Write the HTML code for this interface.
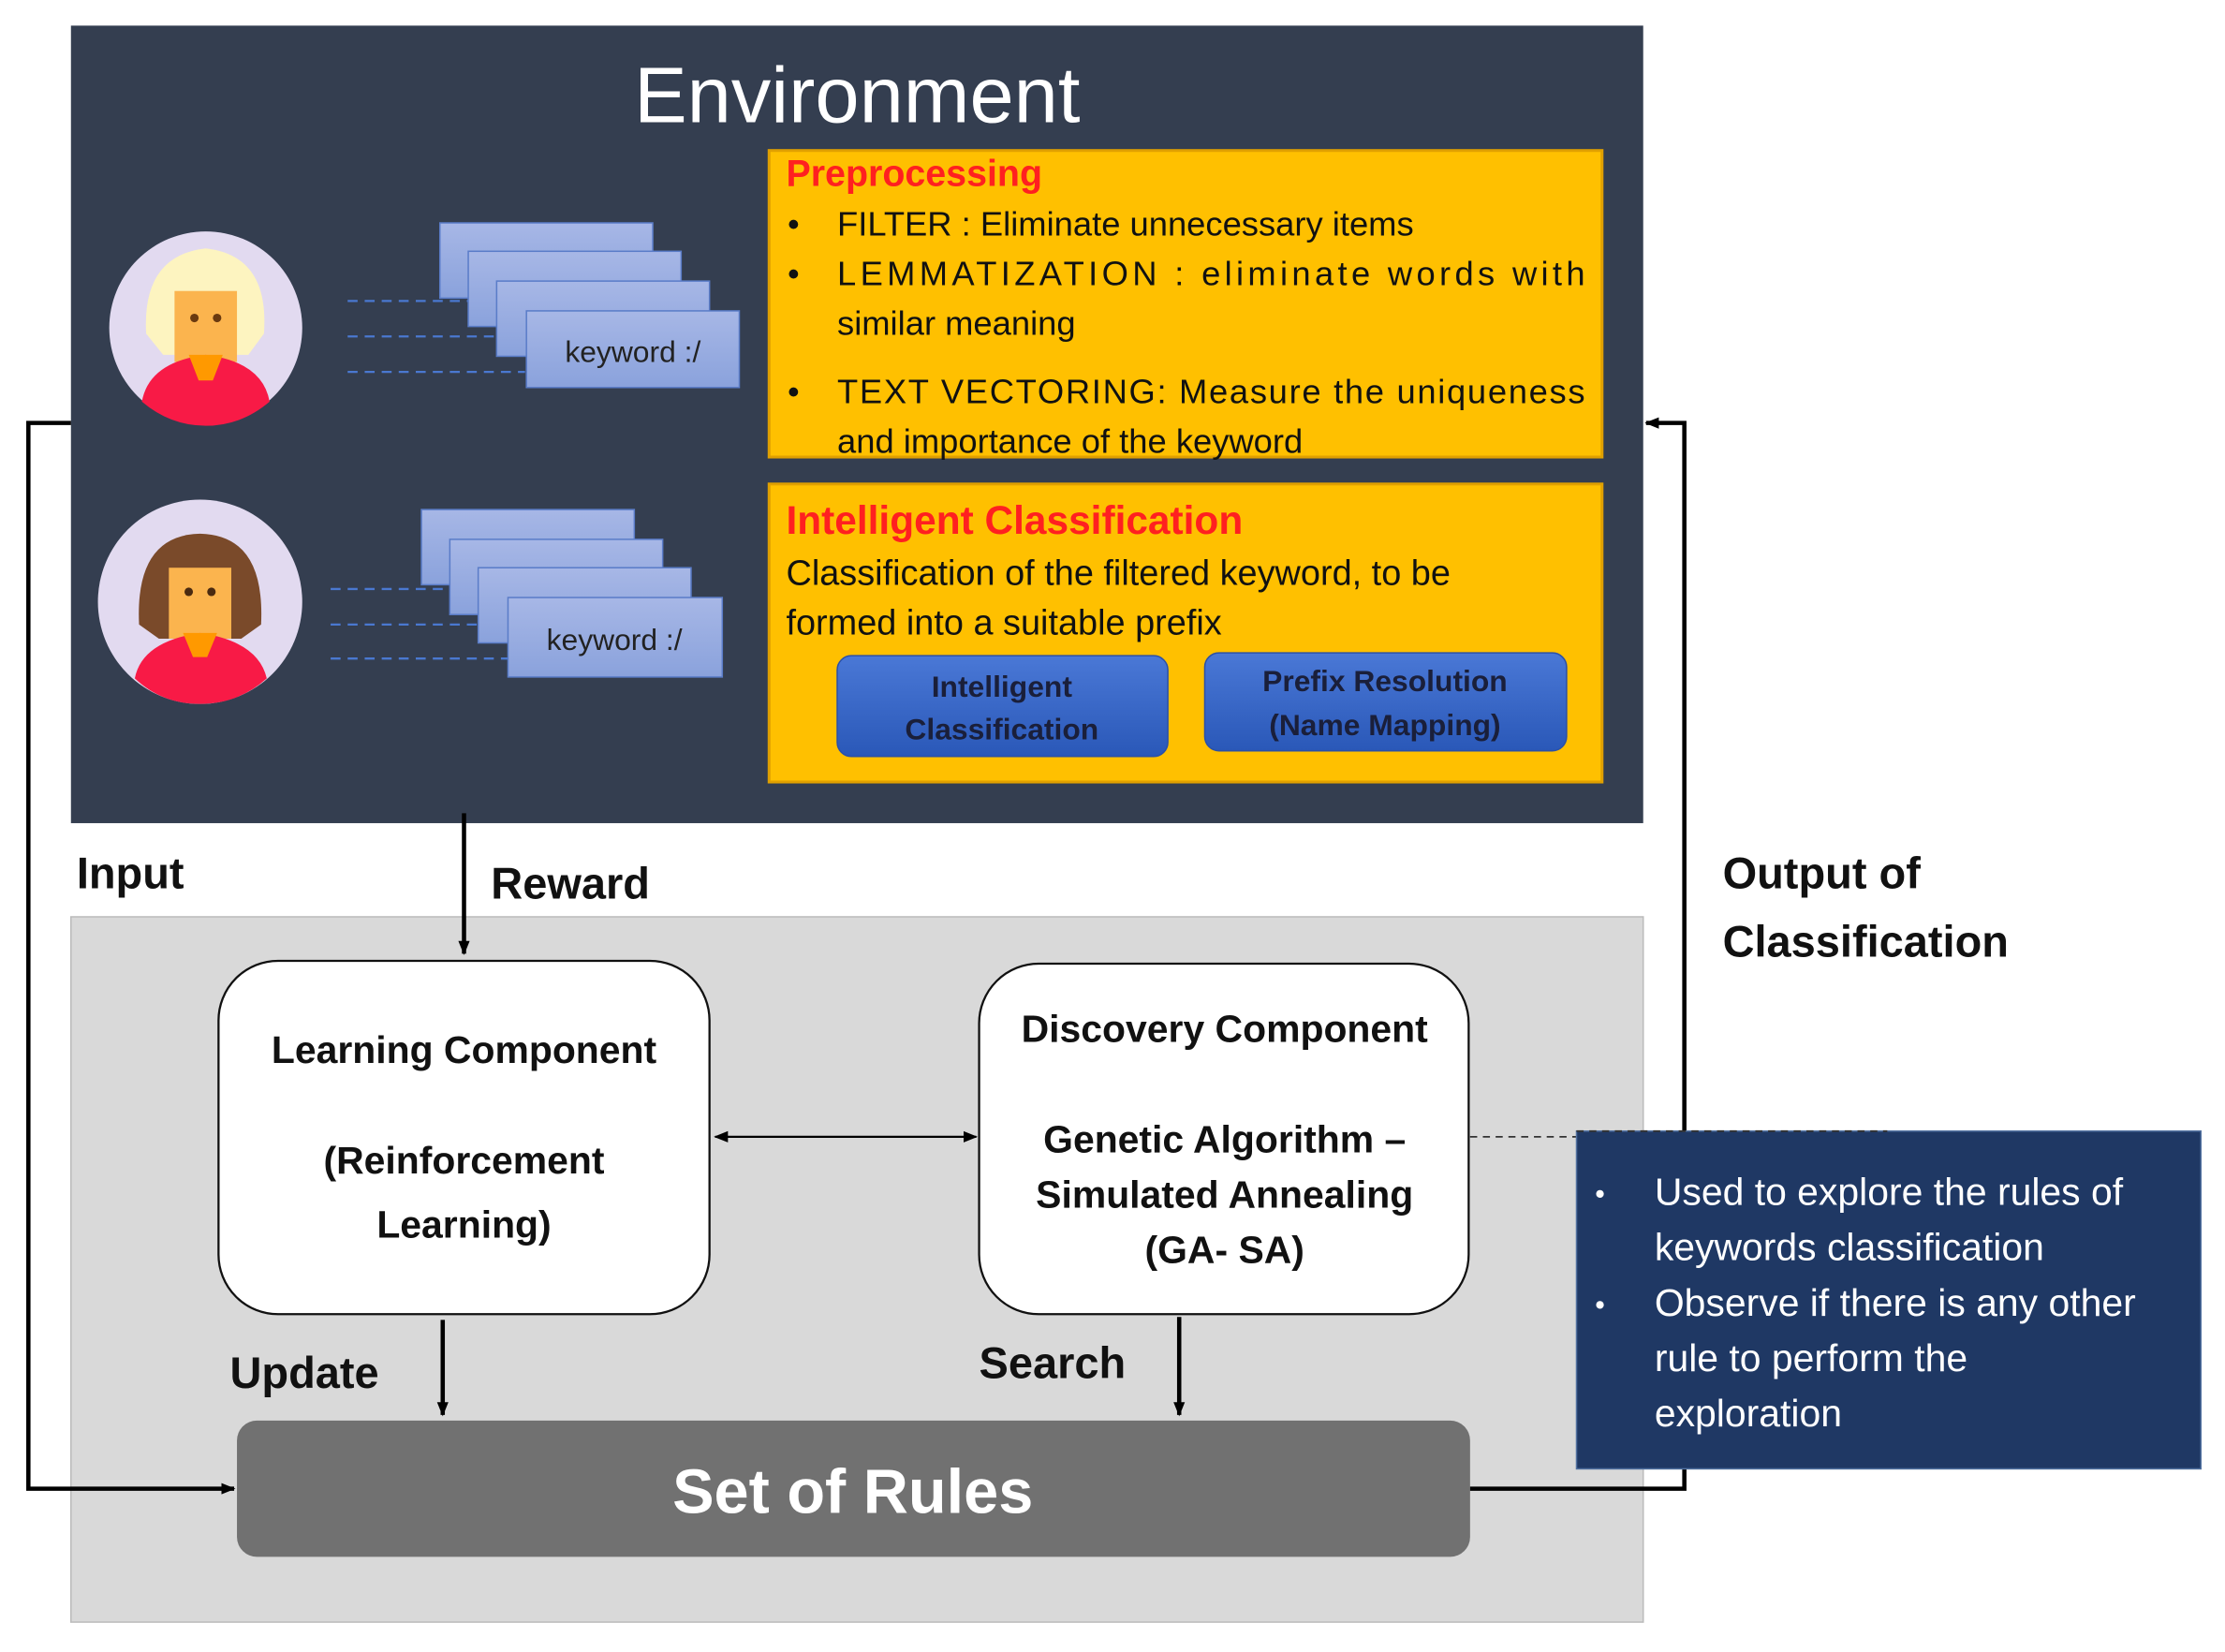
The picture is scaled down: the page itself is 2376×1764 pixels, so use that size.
<!DOCTYPE html>
<html><head><meta charset="utf-8"><style>
html,body{margin:0;padding:0;background:#fff}
svg{display:block}
text{font-family:"Liberation Sans","DejaVu Sans",sans-serif}
</style></head><body>
<svg width="2376" height="1764" viewBox="0 0 1568 1164" xmlns="http://www.w3.org/2000/svg">
<defs>
<linearGradient id="card" x1="0" y1="0" x2="0" y2="1"><stop offset="0" stop-color="#a7b7e6"/><stop offset="1" stop-color="#8aa2dc"/></linearGradient>
<linearGradient id="btn" x1="0" y1="0" x2="0" y2="1"><stop offset="0" stop-color="#4a78d6"/><stop offset="1" stop-color="#2a58b8"/></linearGradient>
<marker id="ah" markerWidth="10" markerHeight="10" refX="9" refY="5" orient="auto" markerUnits="userSpaceOnUse"><path d="M0,1 L10,5 L0,9 z" fill="#000"/></marker>
<marker id="ahs" markerWidth="10" markerHeight="10" refX="1" refY="5" orient="auto" markerUnits="userSpaceOnUse"><path d="M10,1 L0,5 L10,9 z" fill="#000"/></marker>
</defs>
<rect x="50" y="18" width="1108" height="562" fill="#343e50"/>
<text x="604" y="86" font-size="56" fill="#fff" text-anchor="middle">Environment</text>
<rect x="50" y="646" width="1108" height="497" fill="#d9d9d9" stroke="#bbb"/>

<g>
<circle cx="145" cy="231" r="68" fill="#e2daf0"/>
<path d="M103,235 Q100,180 145,175 Q190,180 186,235 L175,250 L115,250 Z" fill="#fdf4c0"/>
<rect x="123" y="205" width="44" height="50" fill="#fbb44e"/>
<path d="M100,283 Q105,255 145,250 Q185,255 190,283 Q170,300 145,300 Q120,300 100,283 Z" fill="#f81a46"/>
<path d="M133,250 L157,250 L150,268 L140,268 Z" fill="#ff9900"/>
<circle cx="137" cy="224" r="3" fill="#6a3a10"/><circle cx="153" cy="224" r="3" fill="#6a3a10"/>
</g>
<g>
<circle cx="141" cy="424" r="72" fill="#e2daf0"/>
<path d="M98,440 Q95,377 141,376 Q187,377 184,440 L170,450 L112,450 Z" fill="#7a4a2a"/>
<rect x="119" y="400" width="44" height="50" fill="#fbb44e"/>
<path d="M95,478 Q100,452 141,446 Q182,452 188,478 Q168,496 141,496 Q114,496 95,478 Z" fill="#f81a46"/>
<path d="M129,446 L153,446 L146,463 L136,463 Z" fill="#ff9900"/>
<circle cx="133" cy="417" r="3" fill="#4a2a10"/><circle cx="149" cy="417" r="3" fill="#4a2a10"/>
</g>
<g stroke="#4a78d0" stroke-width="1.5" stroke-dasharray="7,5">
<line x1="245" y1="212" x2="370" y2="212"/><line x1="245" y1="237" x2="370" y2="237"/><line x1="245" y1="262" x2="370" y2="262"/>
<line x1="233" y1="415" x2="358" y2="415"/><line x1="233" y1="440" x2="358" y2="440"/><line x1="233" y1="464" x2="358" y2="464"/>
</g>
<g stroke="#5a7cc8" stroke-width="1" fill="url(#card)">
<rect x="310" y="157" width="150" height="53"/><rect x="330" y="177" width="150" height="53"/><rect x="350" y="198" width="150" height="53"/><rect x="371" y="219" width="150" height="54"/>
<rect x="297" y="359" width="150" height="53"/><rect x="317" y="380" width="150" height="53"/><rect x="337" y="400" width="150" height="53"/><rect x="358" y="421" width="151" height="56"/>
</g>
<text x="446" y="255" font-size="21" fill="#222" text-anchor="middle">keyword :/</text>
<text x="433" y="458" font-size="21" fill="#222" text-anchor="middle">keyword :/</text>

<rect x="542" y="106" width="587" height="216" fill="#ffc000" stroke="#e0a000" stroke-width="2"/>
<text x="554" y="131" font-size="26" font-weight="bold" fill="#ff2020">Preprocessing</text>
<g font-size="24" fill="#111">
<text x="555" y="166">•</text><text x="590" y="166">FILTER : Eliminate unnecessary items</text>
<text x="555" y="201">•</text><text x="590" y="201" textLength="527" lengthAdjust="spacing">LEMMATIZATION  :  eliminate  words  with</text>
<text x="590" y="236">similar meaning</text>
<text x="555" y="284">•</text><text x="590" y="284" textLength="527" lengthAdjust="spacing">TEXT VECTORING: Measure the uniqueness</text>
<text x="590" y="319">and  importance of the keyword</text>
</g>
<rect x="542" y="341" width="587" height="210" fill="#ffc000" stroke="#e0a000" stroke-width="2"/>
<text x="554" y="376" font-size="28" font-weight="bold" fill="#ff2020">Intelligent Classification</text>
<text x="554" y="412" font-size="25" fill="#111">Classification of the filtered keyword, to be</text>
<text x="554" y="447" font-size="25" fill="#111">formed into a suitable prefix</text>
<rect x="590" y="462" width="233" height="71" rx="10" fill="url(#btn)" stroke="#2a50a8"/>
<text x="706" y="491" font-size="21" font-weight="bold" fill="#1a1f3a" text-anchor="middle">Intelligent</text>
<text x="706" y="521" font-size="21" font-weight="bold" fill="#1a1f3a" text-anchor="middle">Classification</text>
<rect x="849" y="460" width="255" height="69" rx="10" fill="url(#btn)" stroke="#2a50a8"/>
<text x="976" y="487" font-size="21" font-weight="bold" fill="#1a1f3a" text-anchor="middle">Prefix Resolution</text>
<text x="976" y="518" font-size="21" font-weight="bold" fill="#1a1f3a" text-anchor="middle">(Name Mapping)</text>

<text x="54" y="626" font-size="31" font-weight="bold" fill="#111">Input</text>
<text x="346" y="633" font-size="31" font-weight="bold" fill="#111">Reward</text>
<text x="1214" y="626" font-size="31" font-weight="bold" fill="#111">Output of</text>
<text x="1214" y="674" font-size="31" font-weight="bold" fill="#111">Classification</text>

<rect x="154" y="677" width="346" height="249" rx="42" fill="#fff" stroke="#111" stroke-width="1.5"/>
<g font-size="27" font-weight="bold" fill="#111" text-anchor="middle">
<text x="327" y="749">Learning Component</text>
<text x="327" y="827">(Reinforcement</text>
<text x="327" y="872">Learning)</text>
</g>
<rect x="690" y="679" width="345" height="247" rx="42" fill="#fff" stroke="#111" stroke-width="1.5"/>
<g font-size="27" font-weight="bold" fill="#111" text-anchor="middle">
<text x="863" y="734">Discovery Component</text>
<text x="863" y="812">Genetic Algorithm –</text>
<text x="863" y="851">Simulated Annealing</text>
<text x="863" y="890">(GA- SA)</text>
</g>
<text x="162" y="978" font-size="31" font-weight="bold" fill="#111">Update</text>
<text x="690" y="971" font-size="31" font-weight="bold" fill="#111">Search</text>

<rect x="167" y="1001" width="869" height="96" rx="14" fill="#717171"/>
<text x="601" y="1066" font-size="44" font-weight="bold" fill="#fff" text-anchor="middle">Set of Rules</text>

<g stroke="#000" stroke-width="3" fill="none">
<line x1="327" y1="573" x2="327" y2="672" marker-end="url(#ah)"/>
<line x1="312" y1="930" x2="312" y2="997" marker-end="url(#ah)"/>
<line x1="831" y1="928" x2="831" y2="997" marker-end="url(#ah)"/>
<polyline points="50,298 20,298 20,1049 165,1049" marker-end="url(#ah)"/>
<polyline points="1036,1049 1187,1049 1187,298 1160,298" marker-end="url(#ah)"/>
</g>
<line x1="504" y1="801" x2="688" y2="801" stroke="#000" stroke-width="1.5" marker-start="url(#ahs)" marker-end="url(#ah)"/>
<line x1="1036" y1="801" x2="1111" y2="801" stroke="#333" stroke-width="1.2" stroke-dasharray="5,4"/>

<rect x="1111" y="797" width="440" height="238" fill="#1f3864" stroke="#5070a0"/>
<line x1="1111" y1="797" x2="1330" y2="797" stroke="#333" stroke-width="1.2" stroke-dasharray="5,4"/>
<g font-size="27" fill="#fff">
<text x="1124" y="848" font-size="20">•</text><text x="1166" y="849">Used to explore the rules of</text>
<text x="1166" y="888">keywords classification</text>
<text x="1124" y="926" font-size="20">•</text><text x="1166" y="927">Observe if there is any other</text>
<text x="1166" y="966">rule to perform the</text>
<text x="1166" y="1005">exploration</text>
</g>
</svg>
</body></html>
